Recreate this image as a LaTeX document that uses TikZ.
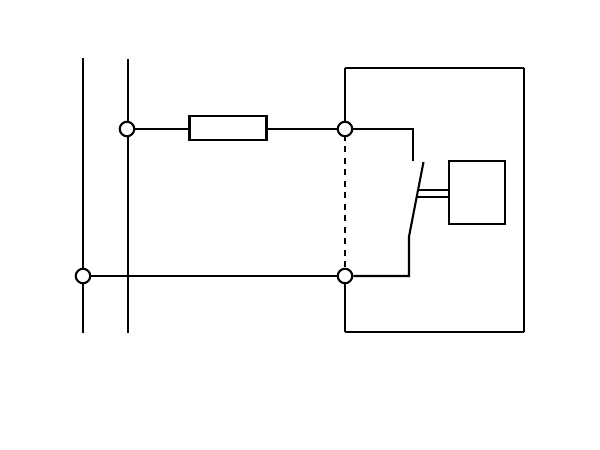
\documentclass[tikz,border=0pt]{standalone}
\tikzset{
  wire/.style={line width=2.1pt,black},
  term/.style={circle,draw=black,line width=2.1pt,fill=white,minimum size=14.5pt,inner sep=0pt},
  boxed/.style={rectangle,draw=black,line width=2.1pt,fill=white,inner sep=0pt,outer sep=0pt},
}
\begin{document}
\begin{tikzpicture}[x=1pt,y=-1pt]
\useasboundingbox (0,0) rectangle (600,450);
% free ends and corners
\coordinate (railAtop) at (83,58);
\coordinate (railAbot) at (83,333);
\coordinate (railBtop) at (128,59);
\coordinate (railBbot) at (128,333);
\coordinate (encTL) at (345,68);
\coordinate (encTR) at (524,68);
\coordinate (encBR) at (524,332);
\coordinate (encBL) at (345,332);
\coordinate (contactCorner) at (413,129);
\coordinate (contactEnd) at (413,160.5);
\coordinate (bladeTop) at (423.5,162);
\coordinate (bladeBot) at (409,236.5);
\coordinate (lowCorner) at (409,276);
\coordinate (linkAL) at (418,190);
\coordinate (linkBL) at (417,197);
% wires below the nodes
\draw[wire] (railAtop) -- (railAbot);
\draw[wire] (railBtop) -- (railBbot);
\draw[wire] (encTL) -- (encTR);
\draw[line width=1.6pt] (encTR) -- (encBR);
\draw[wire] (encBR) -- (encBL);
\node[term] (tA) at (127,129) {};
\node[term] (tB) at (83,276) {};
\node[term] (tC) at (345,129) {};
\node[term] (tD) at (345,276) {};
\node[boxed,minimum width=77pt,minimum height=24pt] (fuse) at (228,128) {};
\node[boxed,minimum width=56pt,minimum height=63pt] (relay) at (477,192.5) {};
\draw[wire] (tA) -- (tA -| fuse.west);
\draw[wire] (tC -| fuse.east) -- (tC);
\draw[wire] (encTL) -- (tC);
\draw[wire] (tB) -- (tD);
\draw[wire] (tD) -- (encBL);
\draw[wire,dash pattern=on 6pt off 5.5pt,dash phase=2.5pt] (tC.south) -- (tD.north);
\draw[wire,line join=miter] (tC) -- (contactCorner) -- (contactEnd);
\draw[wire,line join=miter] (tD) -- (lowCorner) -- (bladeBot) -- (bladeTop);
\draw[wire] (linkAL) -- (linkAL -| relay.west);
\draw[wire] (linkBL) -- (linkBL -| relay.west);
\end{tikzpicture}
\end{document}
